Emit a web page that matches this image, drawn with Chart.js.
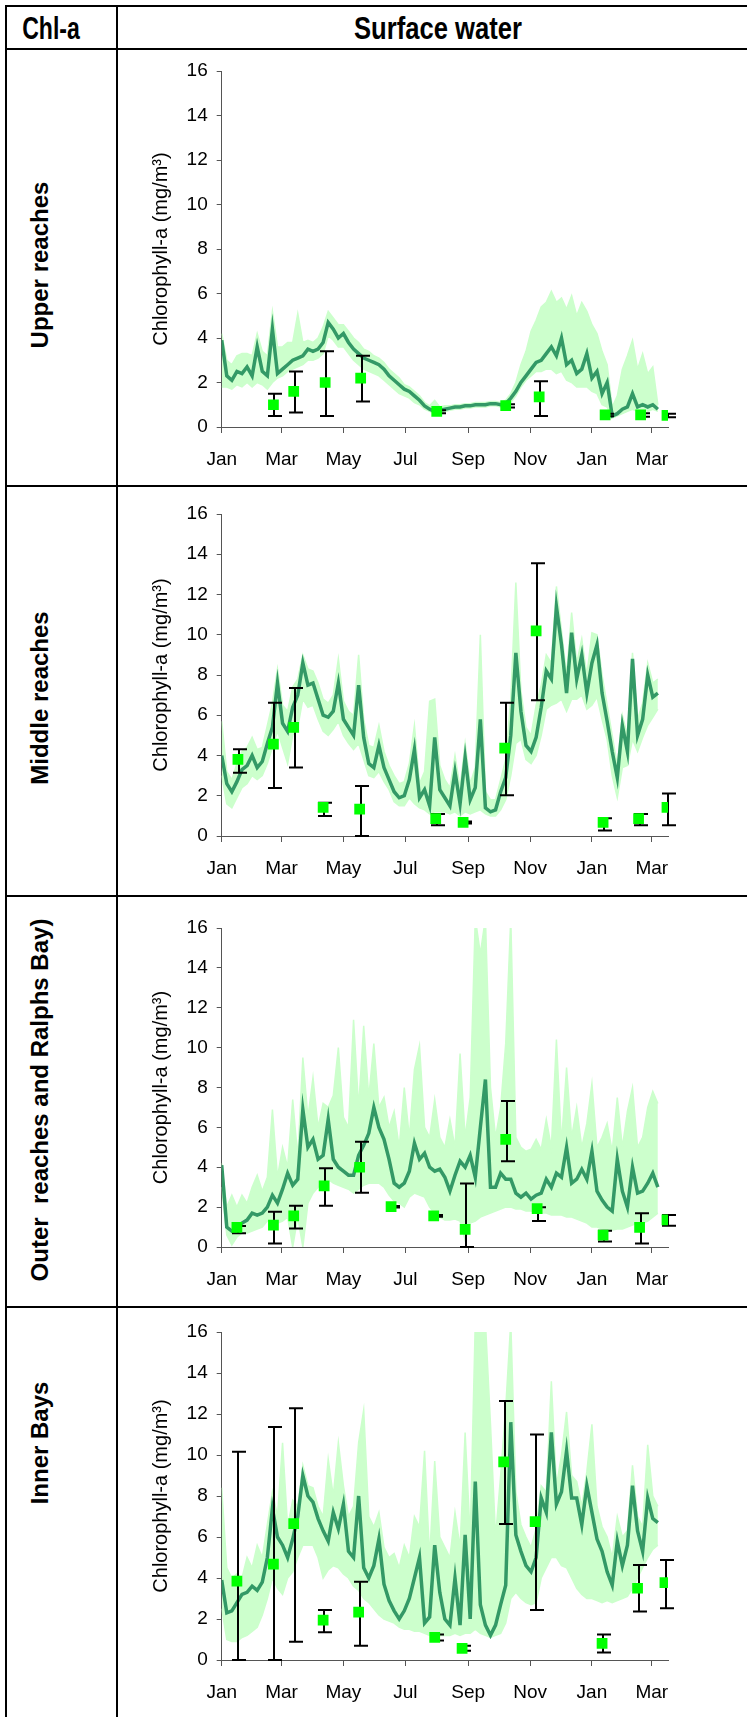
<!DOCTYPE html>
<html>
<head>
<meta charset="utf-8">
<script src="https://cdn.jsdelivr.net/npm/chart.js@4.4.1/dist/chart.umd.min.js"></script>
<style>
  html, body { margin: 0; padding: 0; background: #fff; }
  body { width: 747px; height: 1717px; position: relative; overflow: hidden; }
  .hl { position: absolute; height: 2px; background: #000; }
  .vl { position: absolute; width: 2px; background: #000; }
  .hdr { position: absolute; font-family: "Liberation Sans", Arial, sans-serif; font-weight: bold; font-size: 32px; color: #000; white-space: nowrap; line-height: 1; }
  .rowlab { position: absolute; font-family: "Liberation Sans", Arial, sans-serif; font-weight: bold; font-size: 24px; color: #000; white-space: pre; transform: translate(-50%, -50%) rotate(-90deg); line-height: 1; }
  .cw { position: absolute; left: 119px; }
</style>
</head>
<body>
<div class="hl" style="left:5px; top:5px; width:742px;"></div>
<div class="hl" style="left:5px; top:48px; width:742px;"></div>
<div class="hl" style="left:5px; top:485px; width:742px;"></div>
<div class="hl" style="left:5px; top:895px; width:742px;"></div>
<div class="hl" style="left:5px; top:1306px; width:742px;"></div>
<div class="vl" style="left:5px; top:5px; height:1712px;"></div>
<div class="vl" style="left:116px; top:5px; height:1712px;"></div>

<div class="hdr" style="left:51px; top:28px; transform: translate(-50%, -50%) scaleX(0.72);">Chl-a</div>
<div class="hdr" style="left:438px; top:28px; transform: translate(-50%, -50%) scaleX(0.8);">Surface water</div>

<div class="rowlab" style="left:40px; top:265px;">Upper reaches</div>
<div class="rowlab" style="left:40px; top:698px;">Middle reaches</div>
<div class="rowlab" style="left:40px; top:1100px;">Outer  reaches and Ralphs Bay)</div>
<div class="rowlab" style="left:40px; top:1443px;">Inner Bays</div>

<div class="cw" id="w1"><canvas id="c1"></canvas></div>
<div class="cw" id="w2"><canvas id="c2"></canvas></div>
<div class="cw" id="w3"><canvas id="c3"></canvas></div>
<div class="cw" id="w4"><canvas id="c4"></canvas></div>

<script>
// ---------- shared axis data ----------
const tickDays = [0, 59, 120, 181, 243, 304, 365, 424];
const tickLabels = ['Jan', 'Mar', 'May', 'Jul', 'Sep', 'Nov', 'Jan', 'Mar'];
const sampleDays = [0,5,10,15,20,25,30,35,40,45,50,55,60,65,70,75,80,85,90,95,100,105,110,115,120,125,130,135,140,145,150,155,160,165,170,175,180,185,190,195,200,205,210,215,220,225,230,235,240,245,250,255,260,265,270,275,280,285,290,295,300,305,310,315,320,325,330,335,340,345,350,355,360,365,370,375,380,385,390,395,400,405,410,415,420,425,430];
const yAxisTitle = 'Chlorophyll-a (mg/m\u00B3)';

// ---------- Upper reaches ----------
const upperModel = [3.9,2.3,2.1,2.5,2.4,2.7,2.3,3.6,2.5,2.3, 4.4,2.4,2.6,2.8,3.0,3.1,3.2,3.5,3.4,3.5, 3.8,4.7,4.4,4.0,4.2,3.8,3.5,3.3,3.1,3.0, 2.9,2.8,2.6,2.3,2.1,1.9,1.7,1.6,1.4,1.2, 0.95,0.8,0.7,0.75,0.8,0.85,0.9,0.9,0.95,0.95, 1.0,1.0,1.0,1.05,1.05,1.0,1.05,1.3,1.6,2.0, 2.3,2.6,2.9,3.0,3.3,3.6,3.2,4.0,2.8,3.0, 2.4,2.6,3.3,2.2,2.5,1.5,2.0,0.5,0.6,0.8, 0.9,1.5,0.9,1.0,0.9,1.0,0.8];
const upperHigh = [4.2,3.0,2.8,3.2,3.3,3.3,3.2,4.2,3.4,3.2, 5.2,3.6,3.6,3.8,3.8,5.1,3.8,3.9,3.8,4.0, 4.5,5.2,4.9,4.6,4.6,4.3,4.0,3.8,3.5,3.4, 3.2,3.1,2.9,2.6,2.4,2.2,1.9,1.8,1.6,1.4, 1.1,0.95,1.2,0.9,0.95,0.95,1.0,1.0,1.05,1.05, 1.1,1.1,1.1,1.15,1.15,1.1,1.2,1.5,2.0,2.8, 3.4,4.3,4.8,5.4,5.6,6.1,5.6,5.8,5.3,5.9, 5.0,5.6,5.2,4.6,4.2,3.4,2.8,0.9,1.4,2.6, 3.2,3.9,2.6,3.3,2.4,2.7,1.0];
const upperLow = [1.8,1.8,1.7,1.9,1.8,2.0,1.8,2.0,1.9,1.7, 2.0,2.2,2.3,2.5,2.6,2.7,2.8,3.0,3.0,3.1, 3.3,4.1,3.9,3.6,3.6,3.3,3.0,2.8,2.6,2.5, 2.4,2.3,2.1,1.9,1.7,1.5,1.4,1.3,1.1,1.0, 0.8,0.7,0.6,0.65,0.7,0.75,0.8,0.8,0.85,0.85, 0.9,0.9,0.9,0.95,0.95,0.9,0.95,1.1,1.4,1.8, 2.1,2.3,2.5,2.5,2.6,2.6,2.4,2.5,2.1,2.0, 1.8,1.8,1.8,1.6,1.5,1.0,0.9,0.4,0.5,0.6, 0.7,0.8,0.7,0.8,0.7,0.8,0.7];
const upperObsDays = [51, 71, 102, 137, 212, 280, 313, 378, 413, 439];
const upperObs = [1.0, 1.6, 2.0, 2.2, 0.7, 0.96, 1.35, 0.54, 0.54, 0.52];
const upperObsLow = [0.5, 0.65, 0.5, 1.15, 0.62, 0.88, 0.5, 0.48, 0.46, 0.44];
const upperObsHigh = [1.5, 2.5, 3.4, 3.2, 0.75, 1.02, 2.06, 0.6, 0.62, 0.6];

// ---------- Middle reaches ----------
const middleModel = [4.0,2.6,2.2,2.7,3.3,3.5,4.0,3.4,3.7,4.6, 5.4,7.6,5.6,5.2,6.4,7.0,8.6,7.5,7.6,6.8, 6.0,5.9,6.2,7.6,5.8,5.4,5.0,7.5,4.9,3.6, 3.4,4.5,3.4,2.8,2.2,1.9,2.0,2.8,4.3,1.9, 2.3,1.5,4.9,2.3,1.9,1.5,3.2,1.6,3.9,1.8, 2.4,5.8,1.4,1.2,1.3,2.2,2.9,5.0,9.1,6.2, 4.5,4.2,4.9,6.4,8.2,7.8,11.4,9.5,7.1,10.1, 7.8,9.0,7.1,8.6,9.5,7.1,5.7,4.2,2.9,5.5, 4.2,8.8,5.0,5.8,8.0,6.9,7.1];
const middleHigh = [5.7,3.2,2.8,3.6,4.2,4.4,4.9,4.3,4.4,5.5, 6.6,8.3,6.5,6.2,7.4,7.8,9.0,8.3,8.2,7.6, 6.8,6.6,7.0,8.8,6.7,6.2,6.0,9.0,5.8,4.5, 4.4,5.5,4.2,3.5,3.0,2.6,2.7,3.6,5.5,2.6, 3.2,6.7,6.8,3.5,2.8,2.4,4.0,2.4,4.6,2.6, 3.4,10.0,2.2,1.8,1.8,2.8,3.8,6.8,12.6,7.2, 5.4,5.0,6.5,7.5,9.0,8.6,12.4,10.2,8.0,11.1, 8.6,9.8,8.0,10.1,10.0,8.0,6.5,5.0,3.5,6.0, 5.0,9.1,5.8,6.6,8.6,7.6,7.8];
const middleLow = [3.0,1.6,1.4,1.9,2.4,2.6,3.0,2.8,3.0,3.6, 4.4,5.2,4.4,3.6,5.0,5.4,6.8,6.4,6.5,5.8, 5.2,5.0,5.3,5.7,5.0,4.6,4.3,4.6,3.8,3.0, 2.9,3.2,2.7,2.3,1.7,1.5,1.5,1.9,1.6,1.4, 1.3,1.1,1.2,1.2,1.2,1.1,1.2,1.0,1.2,1.1, 1.2,1.3,1.1,1.0,1.0,1.3,1.8,3.0,4.6,4.8, 3.8,3.6,4.0,5.0,6.3,6.5,6.6,6.8,6.2,6.8, 6.8,7.0,6.3,6.5,6.9,5.8,4.8,3.0,1.9,3.4, 3.5,4.8,4.2,4.9,5.5,5.9,6.3];
const middleObsDays = [16, 51, 71, 100, 136, 211, 238, 279, 310, 376, 411, 439];
const middleObs = [3.81, 4.56, 5.4, 1.42, 1.33, 0.86, 0.68, 4.37, 10.19, 0.68, 0.86, 1.42];
const middleObsLow = [3.14, 2.39, 3.4, 1.0, 0, 0.54, 0.62, 2.03, 6.74, 0.27, 0.54, 0.54];
const middleObsHigh = [4.31, 6.62, 7.36, 1.65, 2.48, 1.09, 0.72, 6.62, 13.55, 0.88, 1.09, 2.11];

// ---------- Outer reaches and Ralphs Bay ----------
const outerModel = [4.1,1.0,0.8,0.95,1.2,1.35,1.7,1.6,1.7,2.0, 2.6,2.2,2.9,3.7,3.1,3.4,6.9,5.0,5.4,4.4, 4.6,6.4,4.4,4.0,3.8,3.6,3.6,4.6,5.1,5.7, 7.0,6.0,5.4,4.4,3.2,3.0,3.2,3.8,5.2,4.4, 4.7,4.0,3.8,3.9,3.5,2.8,3.6,4.3,4.0,4.6, 3.5,6.0,8.4,3.0,3.0,3.7,3.4,3.4,2.7,2.5, 2.7,2.4,2.6,2.7,3.4,3.0,3.7,3.5,5.0,3.2, 3.4,3.9,3.4,4.8,2.8,2.35,2.0,1.8,4.4,2.8, 2.0,4.0,2.7,2.8,3.2,3.7,3.0];
const outerHigh = [4.2,2.0,2.6,2.0,2.6,2.2,3.0,3.6,2.8,3.5, 6.9,3.5,5.0,4.0,7.4,4.5,9.5,6.5,8.5,6.0, 7.2,7.0,7.6,10.0,6.5,6.0,11.4,7.0,11.1,7.5, 10.2,7.0,7.5,6.0,6.8,5.0,8.0,5.5,8.9,10.1, 6.0,5.5,7.4,5.5,5.0,6.4,5.0,9.7,5.5,7.5, 16.5,14.7,16.5,8.0,5.5,7.0,10.2,16.5,5.5,5.0, 4.8,4.9,5.4,4.9,6.4,5.0,10.4,5.2,9.0,5.5, 7.0,5.0,6.2,8.2,5.0,5.5,6.2,4.8,7.5,5.0, 6.8,8.0,5.0,5.5,7.0,7.8,7.2];
const outerLow = [3.0,0.6,0.1,0.5,0.7,0.7,0.8,0.9,1.0,1.3, 1.4,1.2,1.3,1.5,0.0,1.5,0.0,2.2,2.7,3.0, 3.3,3.4,3.2,3.1,3.0,2.9,2.7,2.9,3.1,3.2, 3.2,3.2,3.0,2.6,2.3,2.2,2.0,2.5,2.7,2.6, 2.5,2.0,1.7,1.5,1.35,1.35,1.4,1.3,0.35,1.2, 1.3,1.5,1.6,1.7,1.8,1.9,2.0,2.0,1.9,1.9, 1.8,1.8,1.7,1.7,1.7,1.6,1.6,1.6,1.5,1.5, 1.4,1.3,1.2,1.0,1.0,0.9,0.85,0.85,0.9,0.9, 1.0,1.1,1.2,1.2,1.3,1.5,1.7];
const outerObsDays = [15, 51, 71, 101, 136, 167, 209, 240, 280, 311, 376, 412, 439];
const outerObs = [0.99, 1.1, 1.56, 3.06, 4.0, 2.02, 1.56, 0.89, 5.4, 1.92, 0.6, 0.99, 1.36];
const outerObsLow = [0.69, 0.18, 0.93, 2.07, 2.72, 1.98, 1.52, 0, 4.3, 1.3, 0.27, 0.18, 1.06];
const outerObsHigh = [1.05, 1.77, 2.07, 3.95, 5.28, 2.06, 1.6, 3.19, 7.32, 2.0, 0.82, 1.69, 1.61];

// ---------- Inner Bays ----------
const innerModel = [3.9,2.3,2.4,2.8,3.2,3.3,3.6,3.4,3.8,5.0, 7.4,6.0,5.6,5.0,5.9,7.0,9.0,8.0,7.7,6.9, 6.3,5.8,7.2,6.4,7.6,5.3,5.0,8.0,4.5,4.0, 4.6,5.9,3.7,2.9,2.4,2.0,2.4,3.0,4.0,5.0, 1.8,2.1,5.6,3.3,2.0,1.7,4.0,1.7,6.1,2.0, 8.7,2.7,1.7,1.2,1.7,2.7,3.65,11.6,6.1,5.3, 4.6,4.3,5.0,7.9,7.2,11.1,7.6,8.2,10.2,7.9, 7.9,6.6,8.5,7.2,5.9,5.3,4.3,3.65,5.8,4.6, 5.6,8.5,6.3,5.3,7.9,6.9,6.7];
const innerHigh = [8.4,4.5,4.0,4.2,4.0,5.0,4.5,5.6,5.0,6.6, 8.2,7.0,10.6,6.5,7.8,7.5,9.5,8.5,8.4,7.5, 7.0,9.8,8.0,10.6,8.5,7.0,7.5,10.6,12.2,7.0, 6.5,7.2,5.5,5.0,5.2,4.5,5.6,5.0,7.0,6.5, 10.2,5.0,9.7,6.0,5.5,5.0,7.2,5.5,11.1,6.0, 16.5,16.5,16.5,11.5,6.0,9.0,12.3,16.5,8.2,6.6, 6.0,5.5,6.4,8.5,8.2,13.6,8.5,10.0,12.1,9.0, 8.7,7.5,9.2,11.5,7.5,6.5,6.0,5.0,7.0,6.0, 6.3,9.5,7.0,6.5,10.5,8.0,7.5];
const innerLow = [2.5,1.0,0.9,0.9,1.1,1.2,1.4,1.6,2.2,3.0, 4.0,3.5,3.2,4.0,4.3,5.0,5.6,5.6,5.6,5.0, 4.0,4.4,4.6,4.5,4.2,4.0,3.6,3.4,3.0,2.8, 2.5,2.2,2.0,1.9,1.8,1.6,1.5,1.5,1.4,1.4, 1.3,1.2,1.3,1.2,1.2,1.2,1.3,1.2,1.3,1.3, 1.5,1.3,1.2,1.1,1.2,1.3,1.8,3.0,3.3,3.0, 2.8,2.7,2.8,4.0,4.5,5.0,5.0,4.6,4.5,4.0, 3.5,3.2,3.0,3.0,2.9,2.8,2.9,2.8,2.9,3.0, 3.1,3.5,4.0,4.5,5.0,5.4,5.6];
const innerObsDays = [15, 51, 71, 100, 135, 210, 237, 278, 309, 375, 410, 437];
const innerObs = [3.85, 4.68, 6.65, 1.94, 2.33, 1.1, 0.57, 9.67, 6.75, 0.81, 3.5, 3.77];
const innerObsLow = [0, 0, 0.89, 1.35, 0.7, 0.95, 0.45, 6.63, 2.44, 0.36, 2.36, 2.52];
const innerObsHigh = [10.16, 11.37, 12.28, 2.44, 3.82, 1.25, 0.7, 12.63, 11.0, 1.25, 4.63, 4.88];

// ---------- styling ----------
const DARK = '#339966';
const LIGHT = '#ccffcc';
const MARK = '#00ff00';
const AXIS = '#555555';
const FONT = '"Liberation Sans", Arial, sans-serif';

const errorBarPlugin = {
  id: 'errorBars',
  beforeDatasetDraw(chart, args) {
    if (args.index !== 0) return;
    const ds = chart.data.datasets[0];
    const xs = chart.scales.x, ys = chart.scales.y;
    const ctx = chart.ctx;
    ctx.save();
    ctx.strokeStyle = '#000';
    ctx.lineWidth = 2;
    ds.data.forEach((p, i) => {
      const x = xs.getPixelForValue(p.x);
      const yl = ys.getPixelForValue(ds.errLow[i]);
      const yh = ys.getPixelForValue(ds.errHigh[i]);
      const xc = Math.round(x) + 1;
      ctx.beginPath();
      ctx.moveTo(xc, yl); ctx.lineTo(xc, yh);
      ctx.moveTo(xc - 6, yl); ctx.lineTo(xc + 8, yl);
      ctx.moveTo(xc - 6, yh); ctx.lineTo(xc + 8, yh);
      ctx.stroke();
    });
    ctx.restore();
  }
};

// y-axis title drawn on the chart canvas, centred on the plot area
const yTitlePlugin = {
  id: 'yTitle',
  afterDraw(chart) {
    const a = chart.chartArea;
    const ctx = chart.ctx;
    ctx.save();
    ctx.translate(42, (a.top + a.bottom) / 2);
    ctx.rotate(-Math.PI / 2);
    ctx.font = '20px ' + FONT;
    ctx.fillStyle = '#000';
    ctx.textAlign = 'center';
    ctx.textBaseline = 'middle';
    ctx.fillText(yAxisTitle, 0, 0);
    ctx.restore();
  }
};

function xy(days, vals) { return days.map((d, i) => ({ x: d, y: vals[i] })); }

function makeChart(n, top, bottom, model, hi, lo, obsDays, obs, obsLow, obsHigh) {
  const padTop = 30, xH = 50;
  const plotH = bottom - top;
  const H = padTop + plotH + xH;
  const W = 628;
  const wrap = document.getElementById('w' + n);
  wrap.style.top = (top - padTop) + 'px';
  const cv = document.getElementById('c' + n);
  cv.width = W; cv.height = H;
  cv.style.width = W + 'px'; cv.style.height = H + 'px';
  new Chart(cv, {
    type: 'line',
    data: {
      datasets: [
        { label: 'obs', data: xy(obsDays, obs), errLow: obsLow, errHigh: obsHigh, showLine: false,
          pointStyle: 'rect', pointRadius: 7.6, pointBackgroundColor: MARK, pointBorderColor: MARK, pointBorderWidth: 0 },
        { label: 'model', data: xy(sampleDays, model), borderColor: DARK, borderWidth: 3.5, pointRadius: 0, tension: 0, fill: false },
        { label: 'hi', data: xy(sampleDays, hi), borderColor: LIGHT, borderWidth: 1.5, pointRadius: 0, tension: 0, fill: { target: 3 }, backgroundColor: LIGHT },
        { label: 'lo', data: xy(sampleDays, lo), borderColor: LIGHT, borderWidth: 1.5, pointRadius: 0, tension: 0, fill: false }
      ]
    },
    options: {
      responsive: false, animation: false, devicePixelRatio: 1,
      layout: { padding: { left: 0, right: 79, top: padTop, bottom: 0 } },
      plugins: { legend: { display: false }, tooltip: { enabled: false } },
      scales: {
        x: {
          type: 'linear', min: 0, max: 440,
          afterBuildTicks: s => { s.ticks = tickDays.map(v => ({ value: v })); },
          afterFit: s => { s.height = xH; },
          ticks: { autoSkip: false, maxRotation: 0, padding: 15, color: '#000', font: { family: FONT, size: 19 },
                   callback: (v, i) => tickLabels[i] },
          grid: { drawOnChartArea: false, drawTicks: true, tickLength: 6, color: AXIS, lineWidth: 1 },
          border: { color: AXIS, width: 1 }
        },
        y: {
          min: 0, max: 16,
          afterFit: s => { s.width = 102.7; },
          ticks: { stepSize: 2, padding: 9, color: '#000', font: { family: FONT, size: 19 } },
          grid: { drawOnChartArea: false, drawTicks: true, tickLength: 5, color: AXIS, lineWidth: 1 },
          border: { color: AXIS, width: 1 }
        }
      }
    },
    plugins: [errorBarPlugin, yTitlePlugin]
  });
}

makeChart(1, 71, 427, upperModel, upperHigh, upperLow, upperObsDays, upperObs, upperObsLow, upperObsHigh);
makeChart(2, 514, 836, middleModel, middleHigh, middleLow, middleObsDays, middleObs, middleObsLow, middleObsHigh);
makeChart(3, 928, 1247, outerModel, outerHigh, outerLow, outerObsDays, outerObs, outerObsLow, outerObsHigh);
makeChart(4, 1332, 1660, innerModel, innerHigh, innerLow, innerObsDays, innerObs, innerObsLow, innerObsHigh);
</script>
</body>
</html>
